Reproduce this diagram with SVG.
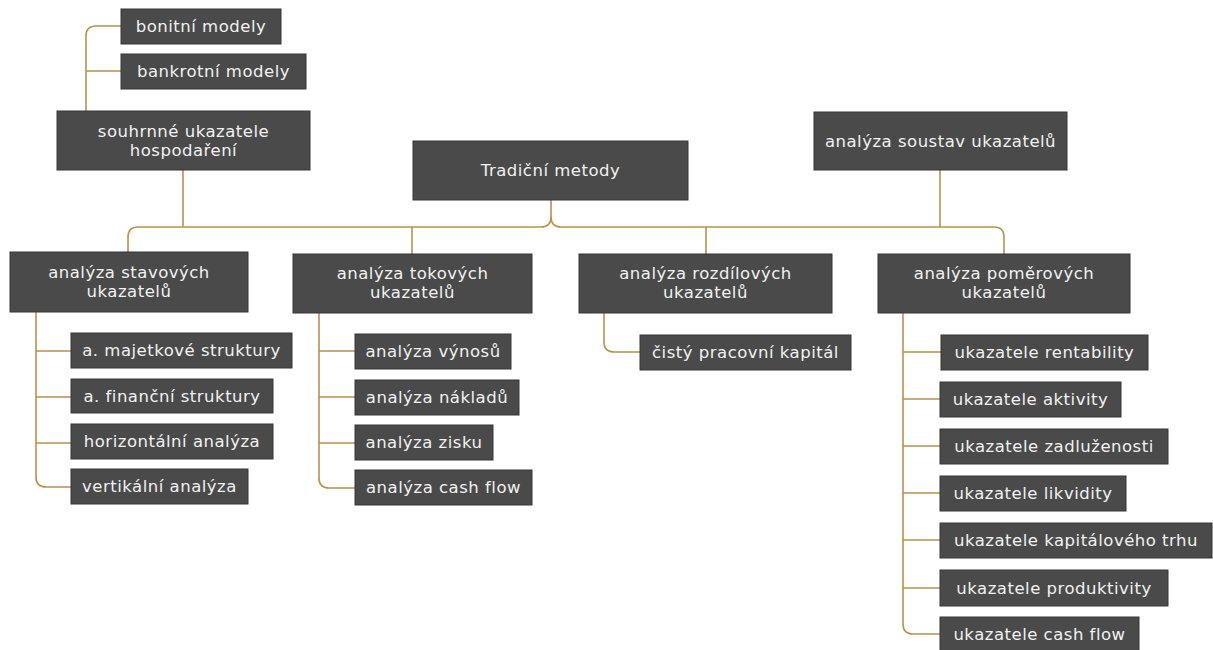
<svg xmlns="http://www.w3.org/2000/svg" width="1213" height="650" viewBox="0 0 1213 650">
<style>
.box{fill:#4a4a4a;stroke:#363636;stroke-width:1}
.t{font-family:"DejaVu Sans",Verdana,sans-serif;font-size:16.5px;letter-spacing:0.5px;fill:#f2f2f2;text-anchor:middle}
.c{fill:none;stroke:#b8924c;stroke-width:1.6}
</style>
<rect width="1213" height="650" fill="#ffffff"/>
<g id="connectors">
<path class="c" d="M86,111 V36 Q86,26 96,26 H121 M86,71 H121"/>
<path class="c" d="M183,170 V227"/>
<path class="c" d="M551,200 V217 Q551,227 541,227 H138 Q128,227 128,237 V252"/>
<path class="c" d="M551,217 Q551,227 561,227 H994 Q1004,227 1004,237 V254"/>
<path class="c" d="M412,227 V254 M706,227 V254 M940,170 V227"/>
<path class="c" d="M36,312 V477 Q36,487 46,487 H71 M36,351 H71 M36,397 H71 M36,443 H71"/>
<path class="c" d="M319,313 V478 Q319,488 329,488 H355 M319,351 H355 M319,397 H355 M319,443 H355"/>
<path class="c" d="M604,313 V342 Q604,352 614,352 H640"/>
<path class="c" d="M903,313 V624 Q903,634 913,634 H940 M903,352 H941 M903,399 H940 M903,446 H940 M903,493 H940 M903,540 H940 M903,588 H940"/>
</g>
<g id="n-bonitni"><rect class="box" x="121" y="9" width="160" height="35"/><text class="t" x="201" y="32">bonitní modely</text></g>
<g id="n-bankrotni"><rect class="box" x="121" y="54" width="185" height="35"/><text class="t" x="213.5" y="77">bankrotní modely</text></g>
<g id="n-souhrnne"><rect class="box" x="57" y="111" width="253" height="59"/><text class="t" x="183.5" y="137">souhrnné ukazatele</text><text class="t" x="183.5" y="156">hospodaření</text></g>
<g id="n-tradicni"><rect class="box" x="413" y="141" width="275" height="59"/><text class="t" x="550.5" y="176">Tradiční metody</text></g>
<g id="n-soustav"><rect class="box" x="814" y="112" width="253" height="58"/><text class="t" x="940.5" y="147">analýza soustav ukazatelů</text></g>
<g id="n-stavovych"><rect class="box" x="10" y="252" width="238" height="60"/><text class="t" x="129" y="278">analýza stavových</text><text class="t" x="129" y="297">ukazatelů</text></g>
<g id="n-tokovych"><rect class="box" x="293" y="254" width="239" height="59"/><text class="t" x="412.5" y="279">analýza tokových</text><text class="t" x="412.5" y="298">ukazatelů</text></g>
<g id="n-rozdilovych"><rect class="box" x="579" y="254" width="253" height="59"/><text class="t" x="705.5" y="279">analýza rozdílových</text><text class="t" x="705.5" y="298">ukazatelů</text></g>
<g id="n-pomerovych"><rect class="box" x="878" y="254" width="252" height="59"/><text class="t" x="1004" y="279">analýza poměrových</text><text class="t" x="1004" y="298">ukazatelů</text></g>
<g id="n-majetkove"><rect class="box" x="71" y="333" width="221" height="35"/><text class="t" x="181.5" y="356">a. majetkové struktury</text></g>
<g id="n-financni"><rect class="box" x="71" y="379" width="202" height="34"/><text class="t" x="172" y="402">a. finanční struktury</text></g>
<g id="n-horizontalni"><rect class="box" x="71" y="424" width="202" height="35"/><text class="t" x="172" y="447">horizontální analýza</text></g>
<g id="n-vertikalni"><rect class="box" x="71" y="469" width="177" height="35"/><text class="t" x="159.5" y="492">vertikální analýza</text></g>
<g id="n-vynosu"><rect class="box" x="355" y="334" width="156" height="35"/><text class="t" x="433" y="357">analýza výnosů</text></g>
<g id="n-nakladu"><rect class="box" x="355" y="380" width="164" height="35"/><text class="t" x="437" y="403">analýza nákladů</text></g>
<g id="n-zisku"><rect class="box" x="355" y="425" width="138" height="35"/><text class="t" x="424" y="448">analýza zisku</text></g>
<g id="n-cashflow1"><rect class="box" x="355" y="470" width="177" height="35"/><text class="t" x="443.5" y="493">analýza cash flow</text></g>
<g id="n-cisty"><rect class="box" x="640" y="335" width="211" height="35"/><text class="t" x="745.5" y="358">čistý pracovní kapitál</text></g>
<g id="n-rentability"><rect class="box" x="941" y="335" width="207" height="35"/><text class="t" x="1044.5" y="358">ukazatele rentability</text></g>
<g id="n-aktivity"><rect class="box" x="940" y="382" width="181" height="35"/><text class="t" x="1030.5" y="405">ukazatele aktivity</text></g>
<g id="n-zadluzenosti"><rect class="box" x="940" y="429" width="228" height="35"/><text class="t" x="1054" y="452">ukazatele zadluženosti</text></g>
<g id="n-likvidity"><rect class="box" x="940" y="476" width="186" height="35"/><text class="t" x="1033" y="499">ukazatele likvidity</text></g>
<g id="n-kapitaloveho"><rect class="box" x="940" y="523" width="272" height="35"/><text class="t" x="1076" y="546">ukazatele kapitálového trhu</text></g>
<g id="n-produktivity"><rect class="box" x="940" y="570" width="228" height="36"/><text class="t" x="1054" y="594">ukazatele produktivity</text></g>
<g id="n-cashflow2"><rect class="box" x="940" y="617" width="199" height="34"/><text class="t" x="1039.5" y="640">ukazatele cash flow</text></g>
</svg>
